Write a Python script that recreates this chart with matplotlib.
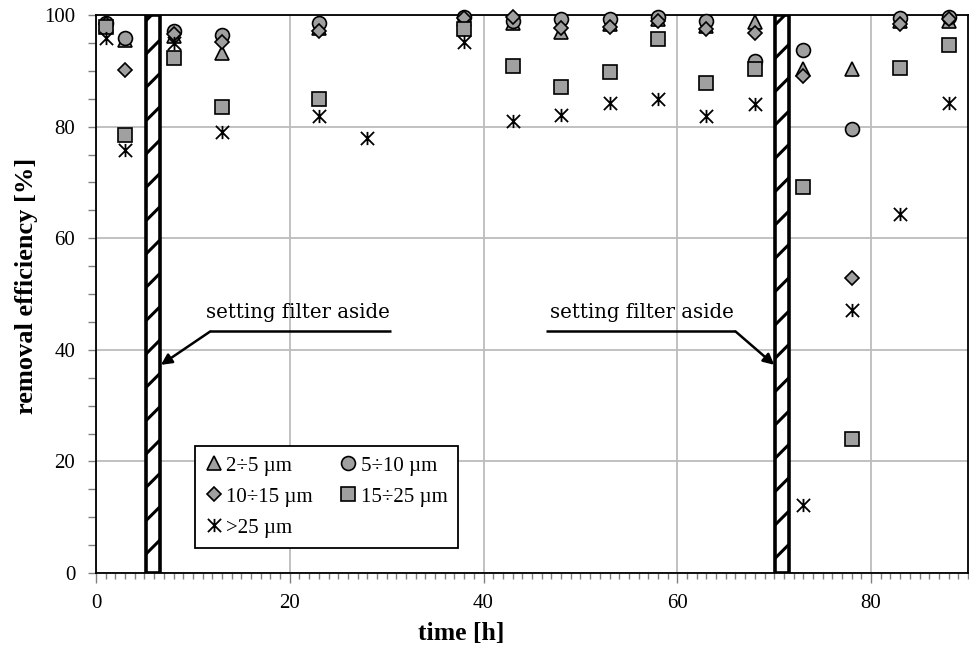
import numpy as np
import matplotlib
matplotlib.use('Agg')
from matplotlib import pyplot as plt
from matplotlib.patches import Rectangle
from matplotlib.path import Path
from matplotlib.ticker import MultipleLocator

# sampling times [h]
time_h = [1, 3, 8, 13, 23, 28, 38, 43, 48, 53, 58, 63, 68, 73, 78, 83, 88]

nan = np.nan
eff_2_5 = [98.3, 95.6, 96.3, 93.2, 97.6, nan, 99.3, 98.5, 97.0, 98.3, 99.2, 98.0,
           98.7, 90.3, 90.3, 99.0, 99.0]
eff_5_10 = [98.6, 95.8, 97.1, 96.4, 98.6, nan, 99.6, 98.9, 99.3, 99.3, 99.6, 99.0,
            91.8, 93.7, 79.6, 99.5, 99.7]
eff_10_15 = [98.4, 90.1, 96.6, 95.2, 97.1, nan, 99.4, 99.6, 97.6, 97.9, 98.9, 97.5,
             96.8, 89.0, 52.9, 98.3, 99.3]
eff_15_25 = [97.9, 78.5, 92.3, 83.5, 84.9, nan, 97.5, 90.9, 87.1, 89.8, 95.7, 87.9,
             90.4, 69.2, 24.0, 90.5, 94.7]
eff_25 = [95.9, 75.8, 95.0, 79.0, 81.9, 78.0, 95.2, 81.0, 82.0, 84.3, 85.0, 81.9,
          84.0, 12.1, 47.2, 64.4, 84.2]

# moments when the filter was set aside
aside_times = [5.9, 70.8]
aside_width = 1.4
aside_label = 'setting filter aside'

plt.rcParams['hatch.linewidth'] = 2.2
serif_t = 'Liberation Serif'
serif_c = 'DejaVu Serif'
gray = '#a0a0a0'

# X with a vertical bar, like the Excel star marker
star = Path([(-1, -1), (1, 1), (-1, 1), (1, -1), (0, -1), (0, 1)],
            [Path.MOVETO, Path.LINETO, Path.MOVETO, Path.LINETO, Path.MOVETO, Path.LINETO])

fig = plt.figure(figsize=(9.7, 6.49), dpi=100)
ax = fig.add_axes([96 / 970, 76 / 649, 872 / 970, 558 / 649])

common = dict(linestyle='none', markerfacecolor=gray, markeredgecolor='k',
              markeredgewidth=1.2, clip_on=False)
h1, = ax.plot(time_h, eff_2_5, marker='^', markersize=10, label='2÷5 µm', zorder=4, **common)
h2, = ax.plot(time_h, eff_5_10, marker='o', markersize=10, label='5÷10 µm', zorder=5, **common)
h3, = ax.plot(time_h, eff_10_15, marker='D', markersize=6.8, label='10÷15 µm', zorder=6, **common)
h4, = ax.plot(time_h, eff_15_25, marker='s', markersize=9.5, label='15÷25 µm', zorder=7, **common)
h5, = ax.plot(time_h, eff_25, marker=star, markersize=9.5, markeredgewidth=1.3,
              color='k', linestyle='none', label='>25 µm', zorder=8, clip_on=False)

for t in aside_times:
    ax.add_patch(Rectangle((t - aside_width / 2, 0), aside_width, 100,
                           facecolor='white', edgecolor='k', hatch='/',
                           linewidth=2.6, zorder=3))

# annotations: text, a leader line and an arrow to each bar
notes = [
    # text x, line start, line end, corner, arrow tip
    (20.8, 11.8, 30.4, 11.8, 6.7),
    (56.3, 46.4, 66.0, 66.0, 70.0),
]
line_y = 43.3
tip_y = 37.3
for tx, x0, x1, corner, tip in notes:
    ax.text(tx, line_y + 1.6, aside_label, family=serif_c, fontsize=14.2,
            ha='center', va='bottom', zorder=9)
    ax.plot([x0, x1], [line_y, line_y], color='k', lw=1.8, zorder=9,
            solid_capstyle='butt')
    ax.annotate('', xy=(tip, tip_y), xytext=(corner, line_y),
                arrowprops=dict(arrowstyle='-|>', color='k', lw=1.8,
                                mutation_scale=16, shrinkA=0, shrinkB=0),
                zorder=9)

ax.set_xlim(0, 90)
ax.set_ylim(0, 100)
ax.xaxis.set_major_locator(MultipleLocator(20))
ax.xaxis.set_minor_locator(MultipleLocator(1))
ax.yaxis.set_major_locator(MultipleLocator(20))
ax.yaxis.set_minor_locator(MultipleLocator(5))
ax.grid(True, which='major', color='#bcbcbc', lw=1.3, zorder=0)
ax.set_axisbelow(True)
ax.tick_params(which='both', direction='out', color='#808080', width=1)
ax.tick_params(axis='x', which='major', length=7, pad=8)
ax.tick_params(axis='x', which='minor', length=4)
ax.tick_params(axis='y', which='both', length=6, pad=9)
for lab in ax.get_xticklabels() + ax.get_yticklabels():
    lab.set_family(serif_t)
    lab.set_fontsize(15)
for sp in ax.spines.values():
    sp.set_linewidth(1.3)
    sp.set_color('k')

ax.set_xlabel('time [h]', family=serif_t, fontweight='bold', fontsize=18.5)
ax.xaxis.set_label_coords((461 - 96) / 872, -(622 - 573) / 558)
ax.set_ylabel('removal efficiency [%]', family=serif_t, fontweight='bold', fontsize=19)
ax.yaxis.set_label_coords(-(96 - 38) / 872, (573 - 286) / 558)

leg = ax.legend(handles=[h1, h3, h5, h2, h4], ncol=2, loc='lower left',
                bbox_to_anchor=((195 - 96) / 872, (573 - 548) / 558),
                prop={'family': serif_t, 'size': 15},
                fancybox=False, framealpha=1, edgecolor='k', handlelength=0.8,
                handletextpad=0.2, columnspacing=1.3, labelspacing=0.55,
                borderpad=0.5, borderaxespad=0)
leg.get_frame().set_linewidth(1.3)
leg.set_zorder(10)

plt.savefig('out.png', dpi=100)
